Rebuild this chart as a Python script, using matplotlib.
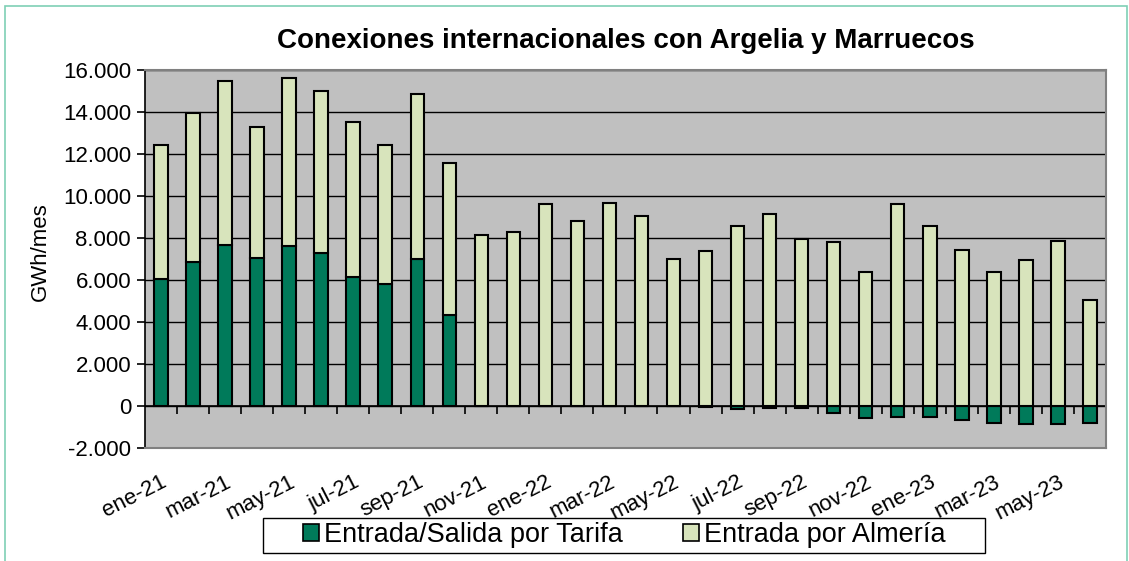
import numpy as np
import matplotlib
matplotlib.use("Agg")
import matplotlib.pyplot as plt
from matplotlib.patches import Rectangle
from matplotlib.ticker import FuncFormatter

plt.rcParams['font.family'] = ['Liberation Sans', 'DejaVu Sans']

# monthly values, GWh/mes
months = ['ene-21', 'feb-21', 'mar-21', 'abr-21', 'may-21', 'jun-21', 'jul-21', 'ago-21',
          'sep-21', 'oct-21', 'nov-21', 'dic-21', 'ene-22', 'feb-22', 'mar-22', 'abr-22',
          'may-22', 'jun-22', 'jul-22', 'ago-22', 'sep-22', 'oct-22', 'nov-22', 'dic-22',
          'ene-23', 'feb-23', 'mar-23', 'abr-23', 'may-23', 'jun-23']
tarifa = [6050, 6840, 7680, 7050, 7640, 7300, 6130, 5820, 7020, 4330,
          0, 0, 0, 0, 0, 0, 0, -60, -150, -100,
          -110, -320, -550, -500, -520, -660, -820, -840, -870, -820]
almeria = [6400, 7090, 7790, 6260, 7980, 7720, 7390, 6600, 7840, 7220,
           8150, 8270, 9630, 8810, 9680, 9060, 7020, 7370, 8570, 9140,
           7970, 7830, 6400, 9600, 8560, 7420, 6400, 6970, 7860, 5060]

green = '#007A5A'
light = '#D8E4BC'

fig = plt.figure(figsize=(11.29, 5.61), dpi=100)
ax = fig.add_axes([0.1284, 0.2014, 0.8512, 0.6738])
ax.set_facecolor('#C0C0C0')

x = np.arange(len(months))
tar = np.array(tarifa)
alm_bottom = np.where(tar > 0, tar, 0)

ax.bar(x, tarifa, width=0.42, color=green, edgecolor='black', linewidth=1.5,
       label='Entrada/Salida por Tarifa', zorder=3)
ax.bar(x, almeria, bottom=alm_bottom, width=0.42, color=light, edgecolor='black',
       linewidth=1.5, label='Entrada por Almería', zorder=3)

ax.set_xlim(-0.5, len(months) - 0.5)
ax.set_ylim(-2000, 16000)
ax.set_yticks(np.arange(-2000, 16001, 2000))
ax.yaxis.set_major_formatter(FuncFormatter(lambda v, p: f'{int(v):,}'.replace(',', '.')))
ax.grid(axis='y', color='black', linewidth=1.0, zorder=1)
ax.axhline(0, color='black', linewidth=1.2, zorder=2)

for s in ['top', 'right', 'bottom']:
    ax.spines[s].set_color('#808080')
    ax.spines[s].set_linewidth(1.5)
ax.spines['left'].set_color('black')
ax.spines['left'].set_linewidth(1.2)

ax.tick_params(axis='y', labelsize=16, length=6, width=1.2, direction='out', pad=4)
ax.set_xticks(x[::2])
ax.set_xticklabels(months[::2], rotation=27, ha='right', rotation_mode='anchor')
ax.tick_params(axis='x', labelsize=16, length=0, pad=17)

# tick marks between categories on the zero line
sec = ax.secondary_xaxis(0, transform=ax.transData)
sec.set_xticks(np.arange(0.5, len(months) - 0.5, 1))
sec.tick_params(axis='x', length=6, width=1.2, direction='out', labelbottom=False)
sec.spines['bottom'].set_visible(False)

ax.set_ylabel('GWh/mes', fontsize=16)
ax.yaxis.set_label_coords(-0.098, 0.52)

fig.text(0.554, 0.927, 'Conexiones internacionales con Argelia y Marruecos',
         ha='center', va='center', fontsize=20, fontweight='bold')

leg = fig.legend(loc='center', bbox_to_anchor=(0.553, 0.046), ncol=2, fontsize=19.5,
                 frameon=False, handlelength=0.6, handleheight=0.6,
                 handletextpad=0.2, columnspacing=2.2, borderpad=0.15)
for h in leg.legend_handles:
    h.set_linewidth(1.2)

# legend box, wider than the entries as in the original
fig.patches.append(Rectangle((263 / 1129, 1 - 553 / 561), 722 / 1129, 35 / 561,
                             transform=fig.transFigure, fill=False,
                             edgecolor='black', linewidth=1.0))
fig.patches.append(Rectangle((0.004, -0.01), 0.994, 0.999, transform=fig.transFigure,
                             fill=False, edgecolor='#7FCFB5', linewidth=1.2))

fig.savefig('out.png', dpi=100)
